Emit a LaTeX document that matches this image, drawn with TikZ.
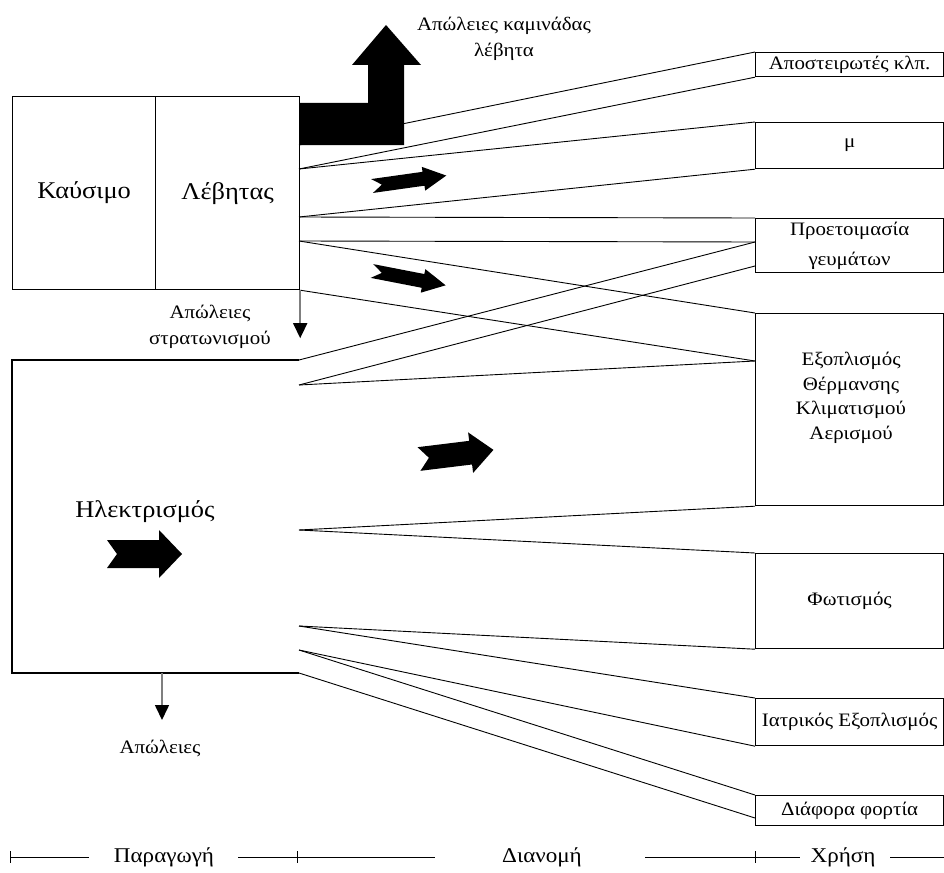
\documentclass[tikz,border=0pt]{standalone}
\usepackage{fontspec}
\setmainfont{Liberation Serif}[FakeStretch=1.1]
\usepackage{tikz}
\usetikzlibrary{arrows.meta,positioning,calc}
\definecolor{LossGray}{HTML}{7F7F7F}

\tikzset{
  pics/flowarrow/.style={code={\fill (0,14) -- (52,14) -- (52,24) -- (75,0) -- (52,-24) -- (52,-14) -- (0,-14) -- (10,0) -- cycle;}}
}

\begin{document}
\begin{tikzpicture}[x=1pt,y=-1pt, every node/.style={font=\fontsize{19}{26}\selectfont,align=center,inner sep=0pt},
    bigtxt/.style={font=\fontsize{24}{28}\selectfont},
    scaletxt/.style={font=\fontsize{21}{24}\selectfont},
    unitbox/.style={draw,line width=1.2pt,anchor=north west},
    enduse/.style={unitbox,minimum width=188pt},
    link/.style={line width=0.9pt},
    loss/.style={LossGray,line width=1.6pt,-{Triangle[width=14pt,length=15pt,color=black]}}]
  \useasboundingbox (0,0) rectangle (944,872);

  % production
  \node[unitbox,bigtxt,minimum width=143pt,minimum height=193pt] (fuel) at (12,96) {Καύσιμο};
  \node[unitbox,bigtxt,minimum width=144pt,minimum height=193pt] (boiler) at (155,96) {Λέβητας};
  \coordinate (etop) at (299,360);
  \coordinate (ebot) at (299,673);
  \draw[line width=1.1pt] (etop) -| (12,673) -- (ebot);
  \node[bigtxt] (elec) at (145,512) {Ηλεκτρισμός};

  % use
  \node[enduse,minimum height=24pt] (ster) at (755,52) {Αποστειρωτές κλπ.};
  \node[enduse,minimum height=46pt] (mu) at (755,122) {μ};
  \node[enduse,minimum height=54pt,font=\fontsize{19}{30}\selectfont] (meal) at (755,218) {Προετοιμασία\\γευμάτων};
  \node[enduse,minimum height=192pt] (hvac) at (755,313) {};
  \node[font=\fontsize{19}{24.5}\selectfont] (hvactxt) at (851,398) {Εξοπλισμός\\Θέρμανσης\\Κλιματισμού\\Αερισμού};
  \node[enduse,minimum height=95pt] (light) at (755,553) {Φωτισμός};
  \node[enduse,minimum height=47pt] (med) at (755,698) {Ιατρικός Εξοπλισμός};
  \node[enduse,minimum height=30pt] (misc) at (755,795) {Διάφορα φορτία};

  % distribution
  \coordinate (b1) at (299,145);
  \coordinate (b2) at (299,169);
  \coordinate (b3) at (299,217);
  \coordinate (b4) at (299,241);
  \coordinate (e1) at (299,385);
  \coordinate (e2) at (299,530);
  \coordinate (e3) at (299,626);
  \coordinate (e4) at (299,650);
  \coordinate (m1) at (755,242);
  \coordinate (m2) at (755,266);
  \coordinate (h1) at (755,361);
  \coordinate (d1) at (755,818);
  \foreach \a/\b in {b1/ster.north west,b2/ster.south west,b2/mu.north west,b3/mu.south west,b3/meal.north west,
      b4/m1,b4/hvac.north west,boiler.south east/h1,etop/m1,e1/m2,e1/h1,e2/hvac.south west,e2/light.north west,
      e3/light.south west,e3/med.north west,e4/med.south west,e4/misc.north west,ebot/d1}
    {\draw[link] (\a) -- (\b);}

  % chimney loss
  \fill (299,103) -- (368,103) -- (368,65) -- (352,65) -- (386,25) -- (421,65) -- (404,65) -- (404,145) -- (299,145) -- cycle;
  \node (chimney) at (504,38.5) {Απώλειες καμινάδας\\λέβητα};

  % other losses
  \draw[loss] (boiler.south east) -- ++(0,48);
  \node (stloss) at (210,327) {Απώλειες\\στρατωνισμού};
  \coordinate (eloss) at (162,673);
  \draw[loss] (eloss) -- ++(0,47);
  \node (elloss) at (160,748) {Απώλειες};

  % flow arrows
  \pic[rotate=8,yscale=0.5] at (372,186) {flowarrow};
  \pic[rotate=-11,yscale=0.5] at (372,271) {flowarrow};
  \pic[rotate=7,yscale=0.85] at (419,459) {flowarrow};
  \pic at (107,554) {flowarrow};

  % scale
  \node[scaletxt] (prod) at (164,857) {Παραγωγή};
  \node[scaletxt] (dist) at (542,857) {Διανομή};
  \node[scaletxt] (use) at (843,857) {Χρήση};
  \draw[link] (10,857) -- (89,857) (238,857) -- (435,857) (645,857) -- (800,857) (890,857) -- (944,857);
  \foreach \t in {10,297,755} {\draw[link] (\t,851) -- (\t,863);}
\end{tikzpicture}
\end{document}
